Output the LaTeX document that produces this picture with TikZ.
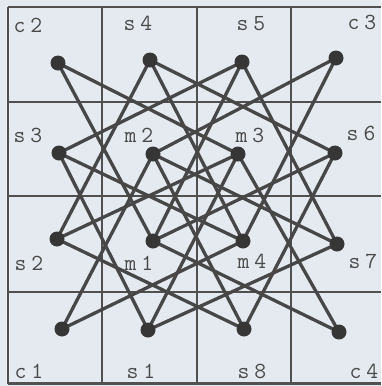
\documentclass[tikz,border=0pt]{standalone}
\usepackage{tikz}
\definecolor{bgc}{HTML}{E4EAEF}
\definecolor{edgec}{HTML}{474747}
\definecolor{gridc}{HTML}{505050}
\definecolor{dotc}{HTML}{363636}
\definecolor{txtc}{HTML}{4A4A4A}
\begin{document}
\begin{tikzpicture}[x=1pt,y=-1pt,
  gridline/.style={draw=gridc,line width=2.6pt},
  knight/.style={draw=edgec,line width=3.3pt},
  vert/.style={circle,fill=dotc,minimum size=15pt,inner sep=0pt},
  lbl/.style={anchor=base,inner sep=0pt,text=txtc,font=\ttfamily\fontsize{23}{23}\selectfont}]
\fill[bgc] (0,0) rectangle (381,386);
\useasboundingbox (0,0) rectangle (381,386);
% grid
\draw[gridline] (8,7) -- (8,384);
\draw[gridline] (8,7) -- (381,7);
\draw[gridline] (102,7) -- (102,384);
\draw[gridline] (197,7) -- (197,384);
\draw[gridline] (291,7) -- (291,384);
\draw[gridline] (8,102) -- (381,102);
\draw[gridline] (8,196) -- (381,196);
\draw[gridline] (8,292) -- (381,292);
\draw[gridline] (8,383.5) -- (381,383.5);
% labels
\node[lbl] (lc2) at (28,32) {c\hspace{5pt}2};
\node[lbl] (ls4) at (138,30) {s\hspace{5pt}4};
\node[lbl] (ls5) at (251,30) {s\hspace{5pt}5};
\node[lbl] (lc3) at (362,29) {c\hspace{5pt}3};
\node[lbl] (ls3) at (28,142) {s\hspace{5pt}3};
\node[lbl] (lm2) at (139,142) {m\hspace{5pt}2};
\node[lbl] (lm3) at (250,142) {m\hspace{5pt}3};
\node[lbl] (ls6) at (361,140) {s\hspace{5pt}6};
\node[lbl] (ls2) at (29,270) {s\hspace{5pt}2};
\node[lbl] (lm1) at (139,270) {m\hspace{5pt}1};
\node[lbl] (lm4) at (252,268) {m\hspace{5pt}4};
\node[lbl] (ls7) at (363,268) {s\hspace{5pt}7};
\node[lbl] (lc1) at (29,378) {c\hspace{5pt}1};
\node[lbl] (ls1) at (141,378) {s\hspace{5pt}1};
\node[lbl] (ls8) at (252,378) {s\hspace{5pt}8};
\node[lbl] (lc4) at (364,378) {c\hspace{5pt}4};
% vertices
\coordinate (c2) at (58,63);
\coordinate (s4) at (150,60);
\coordinate (s5) at (242,62);
\coordinate (c3) at (336,58);
\coordinate (s3) at (59,153);
\coordinate (m2) at (153,154);
\coordinate (m3) at (238,154);
\coordinate (s6) at (335,153);
\coordinate (s2) at (57,239);
\coordinate (m1) at (153,241);
\coordinate (m4) at (243,241);
\coordinate (s7) at (337,244);
\coordinate (c1) at (62,329);
\coordinate (s1) at (148,330);
\coordinate (s8) at (244,329);
\coordinate (c4) at (339,332);
% knight-move edges
\foreach \a/\b in {c2/m3,c2/m1,s4/s6,s4/s2,s4/m4,s5/s3,s5/m1,s5/s7,c3/m2,c3/m4,
  s3/m4,s3/s1,m2/s7,m2/c1,m2/s8,m3/s2,m3/s1,m3/c4,s6/m1,s6/s8,s2/s8,m1/c4,m4/c1,s7/s1}
  \draw[knight] (\a) -- (\b);
\foreach \v in {c2,s4,s5,c3,s3,m2,m3,s6,s2,m1,m4,s7,c1,s1,s8,c4}
  \node[vert] (d\v) at (\v) {};
\end{tikzpicture}
\end{document}
